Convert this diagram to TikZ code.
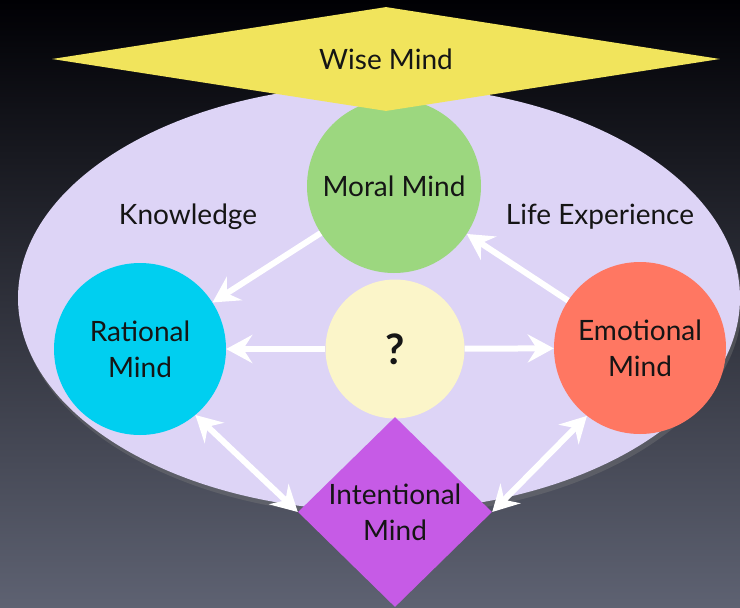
\documentclass[tikz,border=0pt]{standalone}
\usepackage{fontspec}
\setmainfont{Lato}
\usetikzlibrary{shapes.geometric,arrows.meta,shadows}

\definecolor{bgtop}{HTML}{000004}
\definecolor{bgmid}{HTML}{181A30}
\definecolor{bgbot}{HTML}{5E6272}
\definecolor{lavender}{HTML}{DDD4F6}
\definecolor{wiseyellow}{HTML}{F1E45C}
\definecolor{moralgreen}{HTML}{9CD77F}
\definecolor{rationalcyan}{HTML}{00CFF0}
\definecolor{emotionred}{HTML}{FF7762}
\definecolor{unknownpale}{HTML}{FBF5C9}
\definecolor{intentpurple}{HTML}{C65BE6}
\definecolor{ink}{HTML}{151515}

\tikzset{
  mindfont/.style={text=ink, font=\fontsize{28}{36}\selectfont},
  mind/.style={circle, minimum size=#1, inner sep=0pt, align=center, mindfont},
  rhomb/.style={diamond, inner sep=0pt, aspect=2},
  tip/.tip={Stealth[length=26pt, width=28pt, inset=9pt]},
  flow/.style={draw=white, line width=6pt, -tip},
  twoway/.style={draw=white, line width=6pt, tip-tip}
}

\begin{document}
\begin{tikzpicture}[x=1pt,y=-1pt]

\useasboundingbox (0,0) rectangle (740,608);
\fill[top color=bgtop, middle color=bgmid, bottom color=bgbot] (0,0) rectangle (740,608);

% the big field
\node[ellipse, fill=lavender, minimum width=722pt, minimum height=426pt, inner sep=0pt,
      drop shadow={shadow xshift=2pt, shadow yshift=-5pt, opacity=0.35}] (field) at (379,298) {};

\node[mind=174pt, fill=moralgreen] (moral) at (394,186) {Moral Mind};

\node[rhomb, fill=wiseyellow, minimum width=668pt, minimum height=104pt,
      label={[mindfont]center:Wise Mind}] (wise) at (386,59) {};

\node[mind=172pt, fill=rationalcyan] (rational) at (140,349) {Rational\\Mind};
\node[mind=172pt, fill=emotionred] (emotional) at (640,348) {Emotional\\Mind};
\node[mind=139pt, fill=unknownpale, font=\fontsize{42}{44}\selectfont\bfseries] (unknown) at (395,349) {?};

\node[rhomb, fill=intentpurple, minimum width=194pt, minimum height=190pt,
      label={[mindfont, align=center]center:Intentional\\Mind}] (intent) at (395,512) {};

\node[mindfont] (knowledge) at (188,217) {Knowledge};
\node[mindfont] (lifeexp) at (600,217) {Life Experience};

% arrows
\draw[flow] (moral) -- (rational);
\draw[flow] (emotional) -- (moral);
\draw[flow] (unknown) -- (rational);
\draw[flow] (unknown) -- (emotional);
\draw[twoway] (rational.-50) -- (intent.west);
\draw[twoway] (emotional.-128) -- (intent.east);

\end{tikzpicture}
\end{document}
